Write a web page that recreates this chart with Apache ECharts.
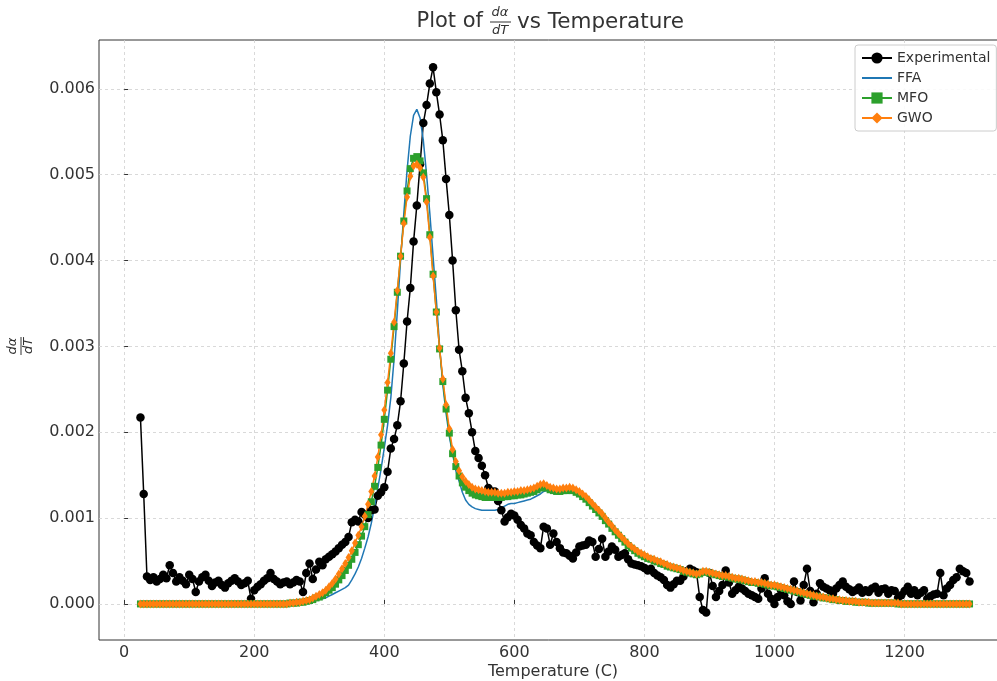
<!DOCTYPE html>
<html><head><meta charset="utf-8">
<script src="https://cdn.jsdelivr.net/npm/echarts@6/dist/echarts.min.js"></script>
<style>html,body{margin:0;padding:0;background:#fff}#c{width:997px;height:681px}</style>
</head><body><div id="c"></div>
<script>
const temperature = [
25,30,35,40,45,50,55,60,65,70,
75,80,85,90,95,100,105,110,115,120,
125,130,135,140,145,150,155,160,165,170,
175,180,185,190,195,200,205,210,215,220,
225,230,235,240,245,250,255,260,265,270,
275,280,285,290,295,300,305,310,315,320,
325,330,335,340,345,350,355,360,365,370,
375,380,385,390,395,400,405,410,415,420,
425,430,435,440,445,450,455,460,465,470,
475,480,485,490,495,500,505,510,515,520,
525,530,535,540,545,550,555,560,565,570,
575,580,585,590,595,600,605,610,615,620,
625,630,635,640,645,650,655,660,665,670,
675,680,685,690,695,700,705,710,715,720,
725,730,735,740,745,750,755,760,765,770,
775,780,785,790,795,800,805,810,815,820,
825,830,835,840,845,850,855,860,865,870,
875,880,885,890,895,900,905,910,915,920,
925,930,935,940,945,950,955,960,965,970,
975,980,985,990,995,1000,1005,1010,1015,1020,
1025,1030,1035,1040,1045,1050,1055,1060,1065,1070,
1075,1080,1085,1090,1095,1100,1105,1110,1115,1120,
1125,1130,1135,1140,1145,1150,1155,1160,1165,1170,
1175,1180,1185,1190,1195,1200,1205,1210,1215,1220,
1225,1230,1235,1240,1245,1250,1255,1260,1265,1270,
1275,1280,1285,1290,1295,1300
];
const experimental = [
.00217,.00128,.00032,.00028,.00031,.00026,.00029,.00034,.00030,.00045,
.00036,.00026,.00031,.00027,.00023,.00034,.00029,.00014,.00026,.00031,
.00034,.00027,.00021,.00025,.00027,.00022,.00019,.00024,.00027,.00030,
.00026,.00022,.00024,.00027,.00006,.00016,.00020,.00023,.00027,.00030,
.00036,.00029,.00026,.00023,.00025,.00026,.00023,.00025,.00028,.00026,
.00014,.00036,.00047,.00029,.00040,.00049,.00045,.00052,.00055,.00058,
.00061,.00065,.00069,.00072,.00078,.00095,.00098,.00096,.00107,.00104,
.00100,.00109,.00110,.00126,.00130,.00136,.00154,.00181,.00192,.00208,
.00236,.00280,.00329,.00368,.00422,.00464,.00512,.00560,.00581,.00606,
.00625,.00596,.00570,.00540,.00495,.00453,.00400,.00342,.00296,.00271,
.00240,.00222,.00200,.00178,.00170,.00161,.00150,.00135,.00131,.00131,
.00120,.00109,.00096,.00101,.00105,.00103,.00098,.00092,.00088,.00082,
.00080,.00072,.00068,.00065,.00090,.00088,.00069,.00082,.00072,.00065,
.00060,.00059,.00056,.00053,.00060,.00067,.00068,.00069,.00074,.00072,
.00055,.00064,.00076,.00055,.00061,.00067,.00063,.00055,.00057,.00059,
.00052,.00047,.00046,.00045,.00044,.00042,.00039,.00041,.00036,.00033,
.00031,.00028,.00022,.00019,.00023,.00027,.00027,.00032,.00038,.00041,
.00039,.00037,.00008,-.00007,-.00010,.00036,.00021,.00008,.00015,.00022,
.00039,.00025,.00012,.00016,.00020,.00018,.00015,.00012,.00010,.00008,
.00006,.00018,.00030,.00012,.00006,.00000,.00008,.00016,.00010,.00003,
.00000,.00026,.00014,.00004,.00022,.00041,.00015,.00002,.00012,.00024,
.00020,.00018,.00016,.00012,.00018,.00022,.00026,.00020,.00017,.00014,
.00016,.00019,.00013,.00016,.00014,.00018,.00020,.00013,.00017,.00018,
.00012,.00016,.00015,.00007,.00010,.00015,.00020,.00012,.00016,.00010,
.00013,.00016,.00006,.00009,.00011,.00012,.00036,.00010,.00018,.00022,
.00028,.00031,.00041,.00038,.00036,.00026
];
const ffa = [
0,0,0,0,0,0,0,0,0,0,
0,0,0,0,0,0,0,0,0,0,
0,0,0,0,0,0,0,0,0,0,
0,0,0,0,0,0,0,0,0,0,
0,0,0,0,0,0,0,0,0,.00001,
.00001,.00002,.00002,.00003,.00004,.00005,.00006,.00007,.00009,.00011,
.00013,.00015,.00017,.00019,.00022,.00028,.00035,.00043,.00053,.00065,
.00078,.00094,.00113,.00135,.00157,.00182,.00208,.00240,.00285,.00340,
.00400,.00455,.00505,.00545,.00569,.00576,.00566,.00540,.00500,.00455,
.00405,.00355,.00300,.00255,.00222,.00195,.00175,.00155,.00143,.00130,
.00121,.00116,.00113,.00111,.00110,.00109,.00109,.00109,.00109,.00109,
.00110,.00112,.00114,.00116,.00117,.00117,.00118,.00119,.00120,.00121,
.00122,.00124,.00126,.00128,.00131,.00132,.00131,.00131,.00130,.00130,
.00131,.00131,.00132,.00131,.00129,.00127,.00124,.00121,.00117,.00113,
.00109,.00105,.00101,.00096,.00092,.00087,.00083,.00079,.00075,.00071,
.00067,.00064,.00061,.00058,.00056,.00054,.00052,.00051,.00049,.00048,
.00046,.00045,.00043,.00042,.00041,.00040,.00039,.00037,.00036,.00035,
.00034,.00033,.00034,.00036,.00036,.00035,.00034,.00033,.00032,.00031,
.00031,.00030,.00029,.00028,.00028,.00027,.00026,.00025,.00024,.00024,
.00023,.00023,.00022,.00021,.00020,.00020,.00019,.00018,.00017,.00016,
.00015,.00014,.00013,.00012,.00011,.00010,.00009,.00009,.00008,.00007,
.00007,.00006,.00005,.00005,.00004,.00004,.00003,.00003,.00003,.00002,
.00002,.00002,.00002,.00001,.00001,.00001,.00001,.00001,.00001,.00001,
.00001,.00001,0,0,0,0,0,0,0,0,
0,0,0,0,0,0,0,0,0,0,
0,0,0,0,0,0
];
const mfo = [
0,0,0,0,0,0,0,0,0,0,
0,0,0,0,0,0,0,0,0,0,
0,0,0,0,0,0,0,0,0,0,
0,0,0,0,0,0,0,0,0,0,
0,0,0,0,0,0,.00001,.00001,.00001,.00002,
.00002,.00003,.00004,.00005,.00007,.00008,.00010,.00013,.00016,.00019,
.00023,.00028,.00033,.00039,.00045,.00052,.00060,.00069,.00079,.00090,
.00104,.00119,.00137,.00159,.00185,.00215,.00249,.00285,.00323,.00363,
.00405,.00446,.00481,.00507,.00519,.00521,.00516,.00502,.00472,.00430,
.00384,.00340,.00297,.00259,.00227,.00199,.00175,.00160,.00149,.00141,
.00136,.00132,.00129,.00127,.00126,.00125,.00124,.00124,.00124,.00124,
.00124,.00124,.00125,.00125,.00126,.00126,.00127,.00127,.00128,.00129,
.00130,.00131,.00133,.00135,.00137,.00135,.00133,.00132,.00131,.00131,
.00132,.00132,.00133,.00132,.00130,.00128,.00125,.00122,.00118,.00114,
.00110,.00106,.00102,.00097,.00093,.00088,.00084,.00080,.00076,.00072,
.00068,.00065,.00062,.00059,.00057,.00055,.00053,.00052,.00050,.00049,
.00047,.00046,.00044,.00043,.00042,.00041,.00040,.00038,.00037,.00036,
.00035,.00034,.00035,.00037,.00037,.00036,.00035,.00034,.00033,.00032,
.00032,.00031,.00030,.00029,.00029,.00028,.00027,.00026,.00025,.00025,
.00024,.00024,.00023,.00022,.00021,.00021,.00020,.00019,.00018,.00017,
.00016,.00015,.00014,.00013,.00012,.00011,.00010,.00009,.00009,.00008,
.00007,.00007,.00006,.00005,.00005,.00004,.00004,.00003,.00003,.00003,
.00002,.00002,.00002,.00002,.00001,.00001,.00001,.00001,.00001,.00001,
.00001,.00001,.00001,0,0,0,0,0,0,0,
0,0,0,0,0,0,0,0,0,0,
0,0,0,0,0,0
];
const gwo = [
0,0,0,0,0,0,0,0,0,0,
0,0,0,0,0,0,0,0,0,0,
0,0,0,0,0,0,0,0,0,0,
0,0,0,0,0,0,0,0,0,0,
0,0,0,0,0,0,.00001,.00001,.00002,.00002,
.00003,.00004,.00005,.00007,.00009,.00011,.00013,.00016,.00020,.00024,
.00029,.00035,.00041,.00047,.00054,.00062,.00071,.00080,.00090,.00102,
.00116,.00131,.00149,.00171,.00197,.00226,.00258,.00292,.00328,.00365,
.00405,.00443,.00474,.00498,.00510,.00512,.00508,.00497,.00468,.00427,
.00382,.00340,.00298,.00262,.00232,.00204,.00180,.00166,.00155,.00148,
.00143,.00139,.00136,.00134,.00133,.00132,.00131,.00130,.00130,.00130,
.00129,.00129,.00129,.00130,.00130,.00131,.00131,.00132,.00132,.00133,
.00134,.00135,.00137,.00139,.00140,.00138,.00136,.00135,.00134,.00134,
.00135,.00135,.00136,.00135,.00133,.00131,.00128,.00125,.00121,.00117,
.00113,.00109,.00105,.00100,.00095,.00091,.00086,.00082,.00078,.00074,
.00070,.00067,.00064,.00061,.00059,.00057,.00055,.00053,.00052,.00050,
.00049,.00047,.00046,.00044,.00043,.00042,.00041,.00039,.00038,.00037,
.00036,.00035,.00036,.00038,.00038,.00037,.00036,.00035,.00034,.00033,
.00033,.00032,.00031,.00030,.00030,.00029,.00028,.00027,.00026,.00026,
.00025,.00025,.00024,.00023,.00022,.00022,.00021,.00020,.00019,.00018,
.00017,.00016,.00015,.00014,.00013,.00012,.00011,.00010,.00009,.00008,
.00008,.00007,.00006,.00006,.00005,.00005,.00004,.00004,.00003,.00003,
.00003,.00002,.00002,.00002,.00002,.00001,.00001,.00001,.00001,.00001,
.00001,.00001,.00001,.00001,0,0,0,0,0,0,
0,0,0,0,0,0,0,0,0,0,
0,0,0,0,0,0
];
const seriesNames = ['Experimental','FFA','MFO','GWO'];
const xTicks = [0,200,400,600,800,1000,1200];
const yTicks = [0,0.001,0.002,0.003,0.004,0.005,0.006];

const FONT = 'DejaVu Sans';
const TXT = '#333333';
const pairs = arr => temperature.map((t,i)=>[t, arr[i]]);

const chart = echarts.init(document.getElementById('c'), null, {renderer:'canvas'});
chart.setOption({
  animation:false,
  backgroundColor:'#ffffff',
  textStyle:{fontFamily:FONT},
  grid:{left:99, top:40, width:912, height:600, outerBoundsMode:'none', containLabel:false,
        show:true, borderColor:'#333333', borderWidth:1, backgroundColor:'transparent'},
  xAxis:{
    type:'value', min:-38.75, max:1363.75, splitNumber:7,
    axisLine:{show:false},
    axisTick:{show:true, inside:true, length:4, customValues:xTicks, lineStyle:{color:'#333333'}},
    axisLabel:{color:TXT, fontSize:16, fontFamily:FONT, margin:5, customValues:xTicks, formatter:v=>String(v)},
    splitLine:{show:true, lineStyle:{color:'#d0d0d0', type:[3,3], width:0.8}}
  },
  yAxis:{
    type:'value', min:-0.00042, max:0.006568, splitNumber:7,
    axisLine:{show:false},
    axisTick:{show:true, inside:true, length:4, customValues:yTicks, lineStyle:{color:'#333333'}},
    axisLabel:{color:TXT, fontSize:16, fontFamily:FONT, margin:4, customValues:yTicks, formatter:v=>v.toFixed(3)},
    splitLine:{show:true, lineStyle:{color:'#d0d0d0', type:[3,3], width:0.8}}
  },
  legend:{
    orient:'vertical', left:855, top:45, padding:[6,6,6,6],
    itemWidth:30, itemHeight:14, itemGap:6,
    backgroundColor:'rgba(255,255,255,0.85)', borderColor:'#cccccc', borderWidth:1, borderRadius:3,
    textStyle:{color:TXT, fontSize:14, lineHeight:14, fontFamily:FONT},
    data:[seriesNames[0], {name:seriesNames[1], itemStyle:{opacity:0}}, seriesNames[2], seriesNames[3]]
  },
  series:[
    {name:seriesNames[0], type:'line', data:pairs(experimental), color:'#000000', showAllSymbol:true,
     symbol:'circle', symbolSize:8.5, lineStyle:{width:1.5, color:'#000000'}, itemStyle:{color:'#000000'}, silent:true},
    {name:seriesNames[1], type:'line', data:pairs(ffa), color:'#1f77b4',
     symbol:'none', lineStyle:{width:1.5, color:'#1f77b4'}, silent:true},
    {name:seriesNames[2], type:'line', data:pairs(mfo), color:'#2ca02c', showAllSymbol:true,
     symbol:'rect', symbolSize:7, lineStyle:{width:1.5, color:'#2ca02c'}, itemStyle:{color:'#2ca02c'}, silent:true},
    {name:seriesNames[3], type:'line', data:pairs(gwo), color:'#ff7f0e', showAllSymbol:true,
     symbol:'diamond', symbolSize:[6,9], lineStyle:{width:1.5, color:'#ff7f0e'}, itemStyle:{color:'#ff7f0e'}, silent:true}
  ],
  graphic:[
    {type:'text', x:483, y:22, style:{text:'Plot of', fill:TXT, font:'21px "DejaVu Sans"', textAlign:'right', textVerticalAlign:'middle'}},
    {type:'text', x:500, y:13, style:{text:'dα', fill:TXT, font:'italic 13px "DejaVu Sans"', textAlign:'center', textVerticalAlign:'middle'}},
    {type:'line', shape:{x1:490, y1:22, x2:511, y2:22}, style:{stroke:TXT, lineWidth:1}},
    {type:'text', x:500, y:31, style:{text:'dT', fill:TXT, font:'italic 13px "DejaVu Sans"', textAlign:'center', textVerticalAlign:'middle'}},
    {type:'text', x:517, y:22, style:{text:'vs Temperature', fill:TXT, font:'21.5px "DejaVu Sans"', textAlign:'left', textVerticalAlign:'middle'}},
    {type:'text', x:553, y:672, style:{text:'Temperature (C)', fill:TXT, font:'16px "DejaVu Sans"', textAlign:'center', textVerticalAlign:'middle'}},
    {type:'group', x:21, y:346, rotation:Math.PI/2, children:[
      {type:'text', x:0, y:-8, style:{text:'dα', fill:TXT, font:'italic 13px "DejaVu Sans"', textAlign:'center', textVerticalAlign:'middle'}},
      {type:'line', shape:{x1:-9, y1:0, x2:9, y2:0}, style:{stroke:TXT, lineWidth:1}},
      {type:'text', x:0, y:8, style:{text:'dT', fill:TXT, font:'italic 13px "DejaVu Sans"', textAlign:'center', textVerticalAlign:'middle'}}
    ]}
  ]
});
</script></body></html>
